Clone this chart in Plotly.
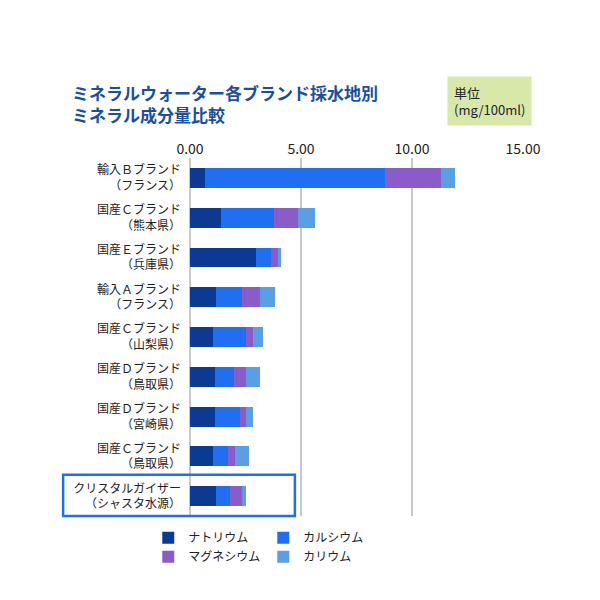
import plotly.graph_objects as go

categories = ["輸入Ｂブランド<br>（フランス）", "国産Ｃブランド<br>（熊本県）", "国産Ｅブランド<br>（兵庫県）",
              "輸入Ａブランド<br>（フランス）", "国産Ｃブランド<br>（山梨県）", "国産Ｄブランド<br>（鳥取県）",
              "国産Ｄブランド<br>（宮崎県）", "国産Ｃブランド<br>（鳥取県）", "クリスタルガイザー<br>（シャスタ水源）"]
sodium = [0.69, 1.41, 2.99, 1.17, 1.04, 1.12, 1.12, 1.03, 1.17]
calcium = [8.10, 2.39, 0.64, 1.17, 1.47, 0.86, 1.12, 0.69, 0.63]
magnesium = [2.53, 1.07, 0.34, 0.83, 0.31, 0.52, 0.26, 0.29, 0.52]
potassium = [0.63, 0.78, 0.15, 0.64, 0.49, 0.66, 0.34, 0.63, 0.20]
series_names = ["ナトリウム", "カルシウム", "マグネシウム", "カリウム"]
colors = ["#0a3a91", "#1f6ff0", "#8a5cc8", "#5a9ee6"]
tick_vals = [0, 5, 10, 15]
tick_text = ["0.00", "5.00", "10.00", "15.00"]

font = "Noto Sans CJK JP"
fig = go.Figure()
for name, vals, c in zip(series_names, [sodium, calcium, magnesium, potassium], colors):
    fig.add_bar(y=categories, x=vals, name=name, orientation="h", marker_color=c,
                marker_line_width=0, width=0.5)

fig.update_layout(
    barmode="stack", width=600, height=600, plot_bgcolor="white", paper_bgcolor="white",
    margin=dict(l=182, r=85, t=150, b=92, autoexpand=False),
    font=dict(family=font, size=12, color="#222"),
    xaxis=dict(side="top", range=[0, 15], tickvals=tick_vals, ticktext=tick_text,
               showgrid=True, gridcolor="#c8c8c8", gridwidth=2, zeroline=True,
               zerolinecolor="#c8c8c8", zerolinewidth=2, tickfont=dict(size=14, family=font),
               showline=False),
    yaxis=dict(autorange="reversed", tickfont=dict(size=12, family=font), ticklabelstandoff=8),
    legend=dict(orientation="h", x=0.22, xanchor="center", y=-0.02, yanchor="top",
                font=dict(size=12), traceorder="normal", entrywidth=70, itemwidth=30),
)
fig.add_annotation(xref="paper", yref="paper", x=-0.36, y=1.223, xanchor="left", yanchor="top",
                   text="<b>ミネラルウォーター各ブランド採水地別<br>ミネラル成分量比較</b>",
                   align="left", showarrow=False,
                   font=dict(size=17, color="#1a4f9e", family=font))
fig.add_shape(type="rect", xref="paper", yref="paper", x0=-0.381, x1=0.315, y0=0.0, y1=0.115,
              line=dict(color="#1f6ff0", width=2.5), fillcolor="rgba(0,0,0,0)")
fig.add_annotation(xref="paper", yref="paper", x=0.898, y=1.159, xanchor="center", yanchor="middle",
                   text="単位<br>(mg/100ml)", align="left", showarrow=False,
                   bgcolor="#d8e8a8", borderpad=6, font=dict(size=13, color="#223"))
fig.write_html("out.html")
